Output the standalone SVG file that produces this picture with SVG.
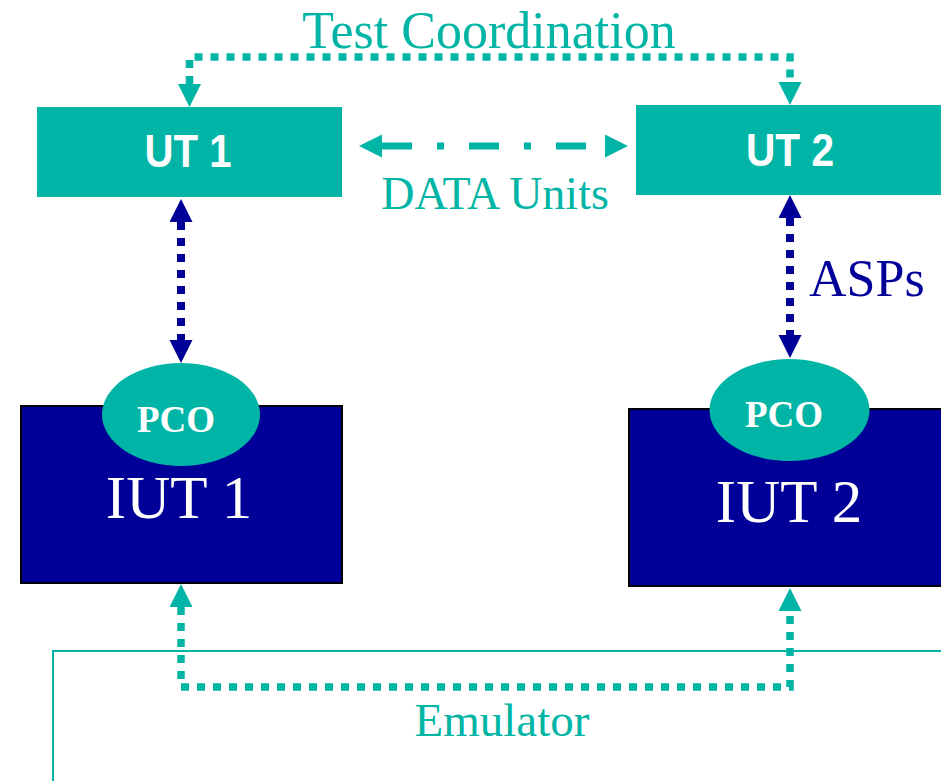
<svg xmlns="http://www.w3.org/2000/svg" width="941" height="781" viewBox="0 0 941 781">
  <style>
    .teal-fill { fill: #00b5a5; }
    .navy-fill { fill: #000099; }
    .serif { font-family: "Liberation Serif", "Times New Roman", serif; }
    .sans { font-family: "Liberation Sans", Arial, sans-serif; }
    .ut-label { fill: #ffffff; font-size: 46px; font-weight: bold; text-anchor: middle; }
    .pco-label { fill: #ffffff; font-size: 37px; font-weight: bold; text-anchor: middle; }
    .iut-label { fill: #ffffff; font-size: 61px; text-anchor: middle; }
    .teal-text { fill: #00b5a5; }
    .navy-text { fill: #000099; }
    .dotted-teal { fill: none; stroke: #00b5a5; stroke-width: 7.5; stroke-dasharray: 8 8; }
    .dashed-navy { fill: none; stroke: #000099; stroke-width: 8; stroke-dasharray: 8 8; }
    .dashdot-teal { fill: none; stroke: #00b5a5; stroke-width: 7; stroke-dasharray: 30 25 7 25; }
  </style>
  <defs>
    <marker id="head-teal" markerUnits="userSpaceOnUse" markerWidth="24" markerHeight="24" refX="0" refY="11.5" orient="auto-start-reverse">
      <path d="M0,0 L23,11.5 L0,23 Z" fill="#00b5a5"/>
    </marker>
    <marker id="head-navy" markerUnits="userSpaceOnUse" markerWidth="24" markerHeight="24" refX="0" refY="11.5" orient="auto-start-reverse">
      <path d="M0,0 L23,11.5 L0,23 Z" fill="#000099"/>
    </marker>
  </defs>

  <!-- Emulator frame (runs past the right and bottom edges) -->
  <g id="emulator">
    <path d="M53,781 V651 H941" fill="none" stroke="#00b5a5" stroke-width="2"/>
    <text class="serif teal-text" x="502" y="736" font-size="47" text-anchor="middle">Emulator</text>
  </g>

  <!-- Upper testers -->
  <g id="ut1">
    <rect class="teal-fill" x="37" y="107" width="305" height="90"/>
    <text class="sans ut-label" x="188" y="167" textLength="87" lengthAdjust="spacingAndGlyphs">UT 1</text>
  </g>
  <g id="ut2">
    <rect class="teal-fill" x="636" y="105" width="310" height="90"/>
    <text class="sans ut-label" x="790" y="166" textLength="88" lengthAdjust="spacingAndGlyphs">UT 2</text>
  </g>

  <!-- Implementations under test -->
  <g id="iut1">
    <rect class="navy-fill" x="21" y="406" width="321" height="177" stroke="#000000" stroke-width="2"/>
    <text class="serif iut-label" x="179" y="518">IUT 1</text>
  </g>
  <g id="iut2">
    <rect class="navy-fill" x="629" y="409" width="320" height="177" stroke="#000000" stroke-width="2"/>
    <text class="serif iut-label" x="789" y="522">IUT 2</text>
  </g>

  <!-- Points of control and observation -->
  <g id="pco1">
    <ellipse class="teal-fill" cx="181" cy="414.5" rx="79" ry="51.5"/>
    <text class="serif pco-label" x="176" y="432">PCO</text>
  </g>
  <g id="pco2">
    <ellipse class="teal-fill" cx="789.5" cy="410" rx="80" ry="51"/>
    <text class="serif pco-label" x="784" y="427">PCO</text>
  </g>

  <!-- Connectors -->
  <g id="connectors">
    <!-- Test coordination between UT1 and UT2 -->
    <path class="dotted-teal" d="M189.5,84 V57 H790 V82" marker-start="url(#head-teal)" marker-end="url(#head-teal)"/>
    <!-- Data units exchanged between UT1 and UT2 -->
    <path class="dashdot-teal" d="M382,146 H605" marker-start="url(#head-teal)" marker-end="url(#head-teal)"/>
    <!-- ASPs between UTs and PCOs -->
    <path class="dashed-navy" d="M181,222 V340" marker-start="url(#head-navy)" marker-end="url(#head-navy)"/>
    <path class="dashed-navy" d="M790,218 V335" marker-start="url(#head-navy)" marker-end="url(#head-navy)"/>
    <!-- Emulator link into the IUTs -->
    <path class="dotted-teal" d="M181,607 V687 H790 V611" marker-start="url(#head-teal)" marker-end="url(#head-teal)"/>
  </g>

  <!-- Connector labels -->
  <g id="labels">
    <text class="serif teal-text" x="489" y="48" font-size="52" text-anchor="middle">Test Coordination</text>
    <text class="serif teal-text" x="495" y="209" font-size="46" text-anchor="middle">DATA Units</text>
    <text class="serif navy-text" x="809" y="296" font-size="52">ASPs</text>
  </g>
</svg>
